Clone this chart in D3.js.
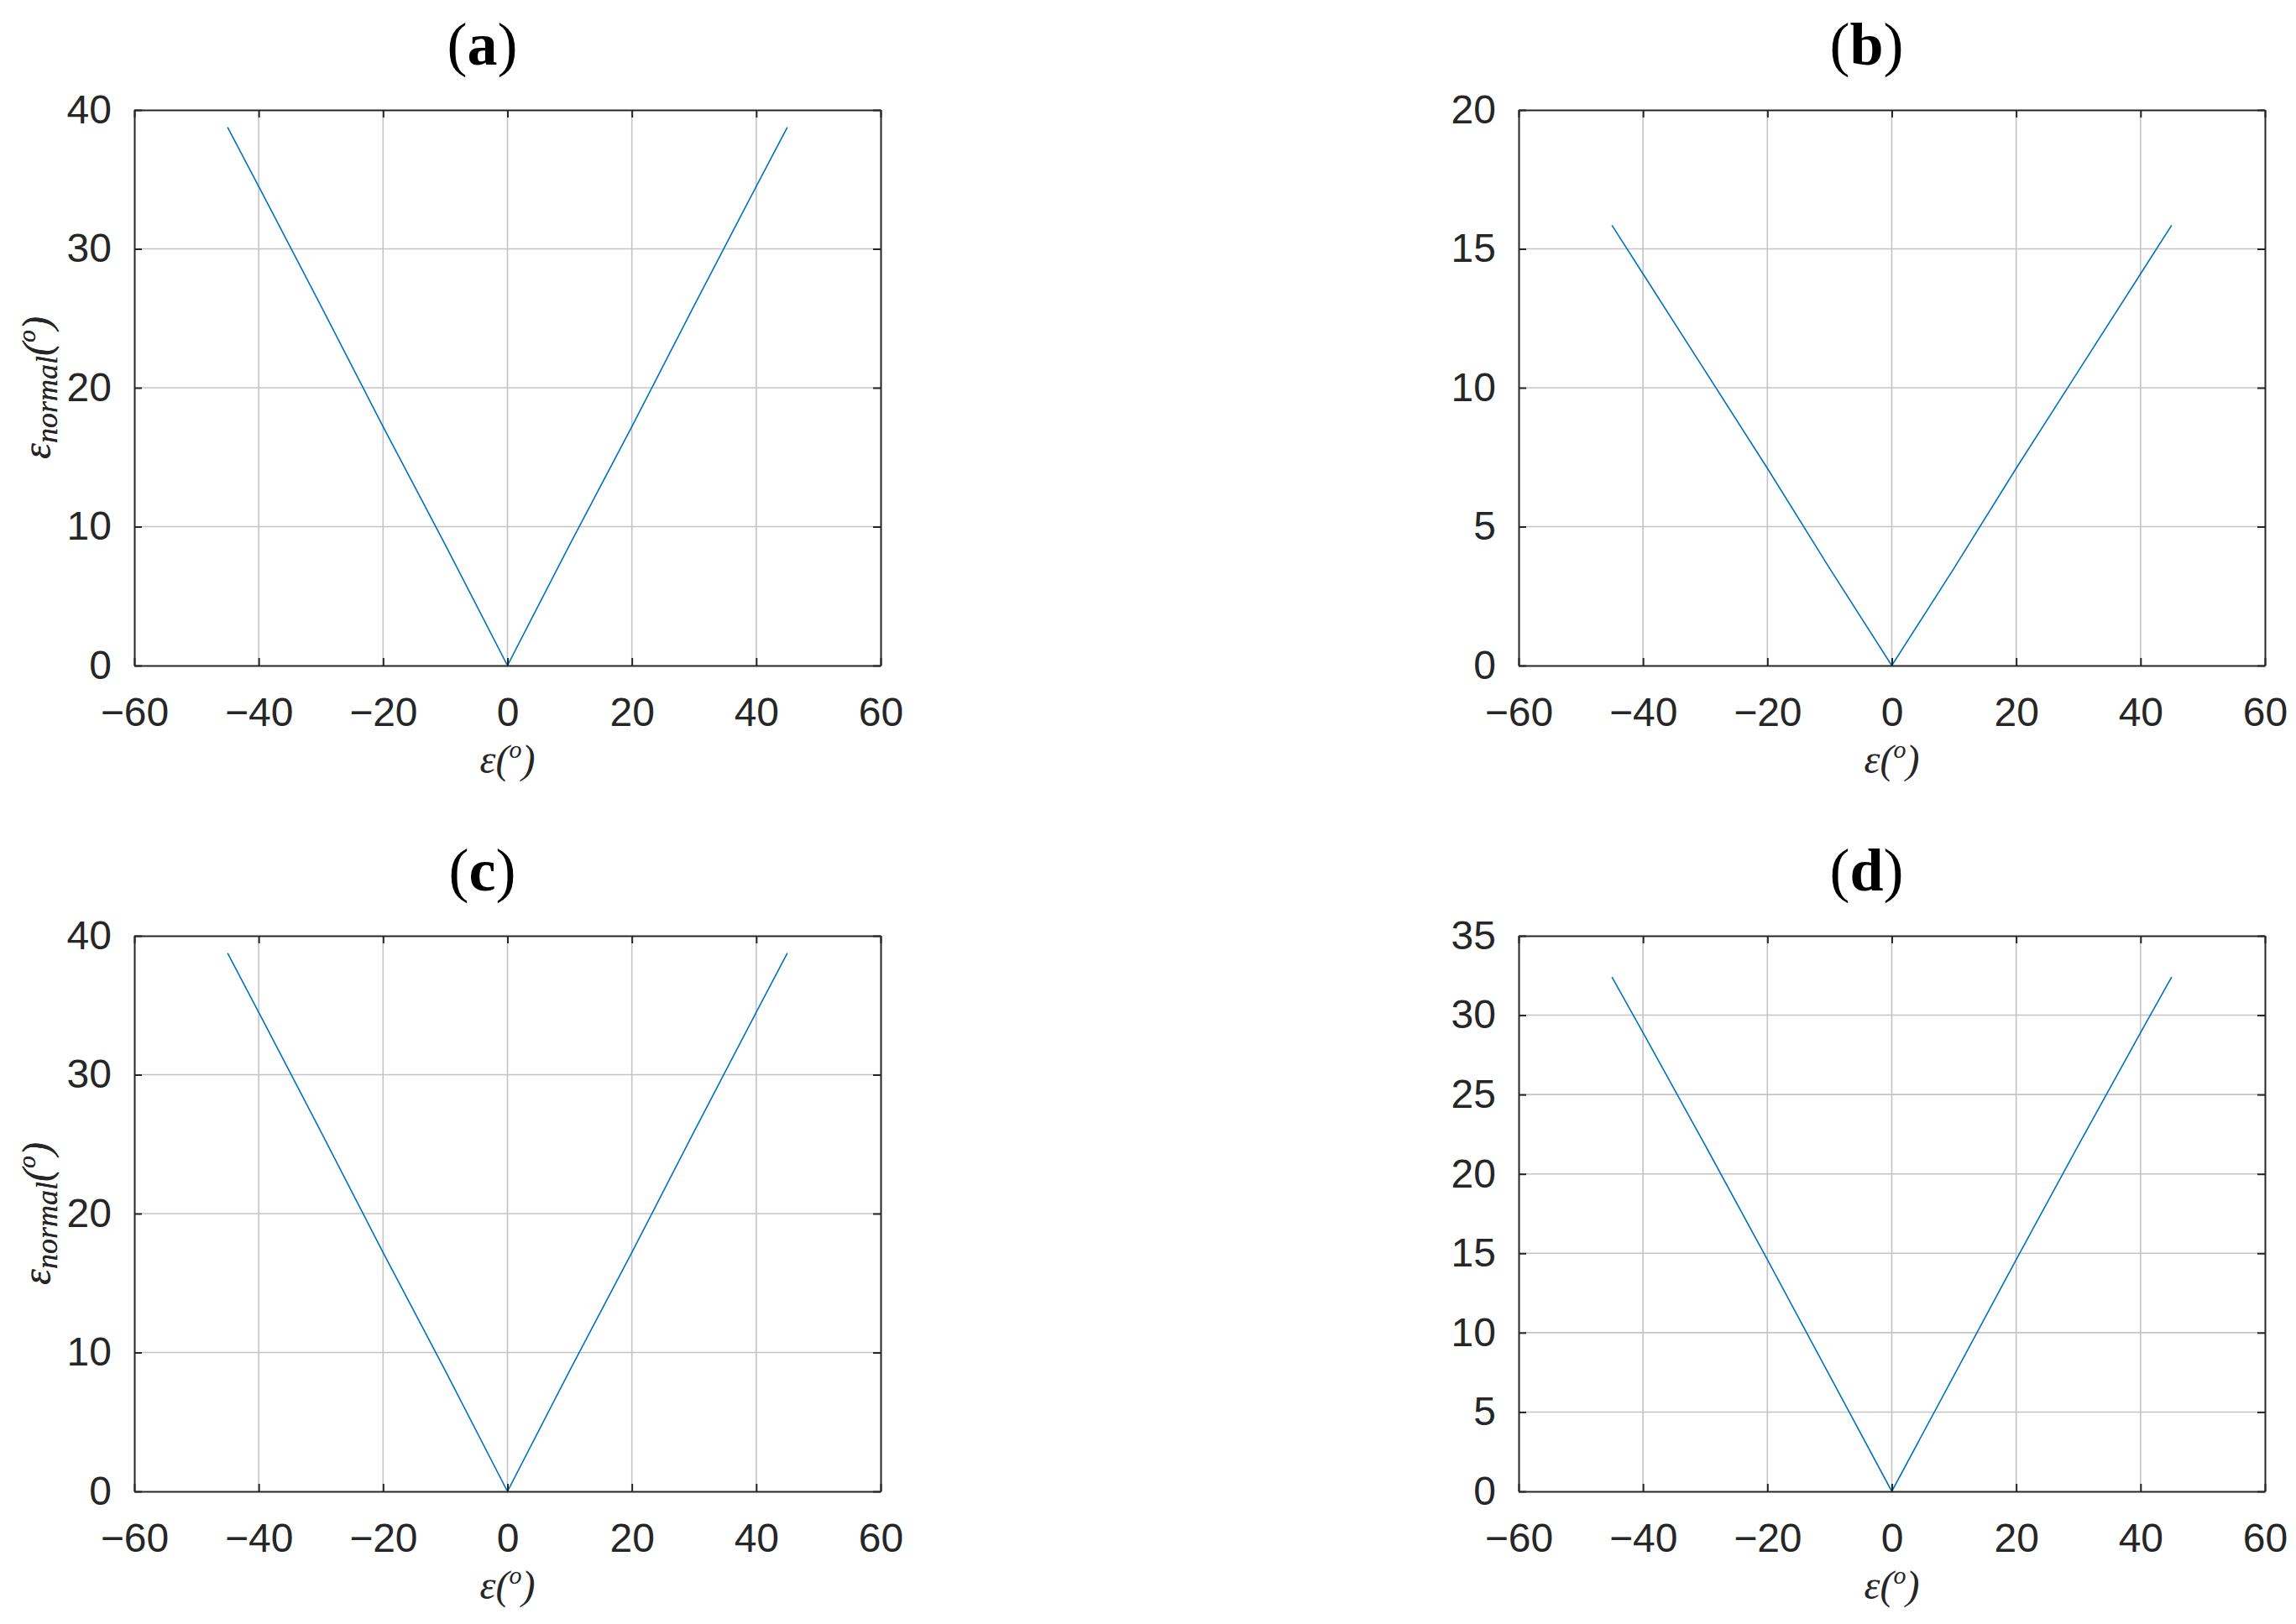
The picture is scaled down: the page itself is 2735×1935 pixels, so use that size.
<!DOCTYPE html>
<html>
<head>
<meta charset="utf-8">
<script src="https://cdn.jsdelivr.net/npm/d3@7"></script>
<style>
  body { margin: 0; background: #fff; }
  text { fill: #262626; }
</style>
</head>
<body>
<script>
// Størrelse på hele figuren
const w = 2735;
const h = 1935;

// Data - epsilon i grader og epsilon_normal for hvert panel
const epsValues = [-45, -40, -30, -20, -10, 0, 10, 20, 30, 40, 45];
const normalA = [38.75, 34.5, 25.9, 17.2, 8.7, 0, 8.7, 17.2, 25.9, 34.5, 38.75];
const normalB = [15.85, 14.1, 10.6, 7.1, 3.5, 0, 3.5, 7.1, 10.6, 14.1, 15.85];
const normalC = [38.75, 34.5, 25.9, 17.2, 8.7, 0, 8.7, 17.2, 25.9, 34.5, 38.75];
const normalD = [32.4, 28.9, 21.8, 14.6, 7.3, 0, 7.3, 14.6, 21.8, 28.9, 32.4];

// Tick-værdier
const xTicks = [-60, -40, -20, 0, 20, 40, 60];
const yTicksA = [0, 10, 20, 30, 40];
const yTicksB = [0, 5, 10, 15, 20];
const yTicksC = [0, 10, 20, 30, 40];
const yTicksD = [0, 5, 10, 15, 20, 25, 30, 35];

const panelLetters = ["a", "b", "c", "d"];
const panelSeries = [normalA, normalB, normalC, normalD];
const panelTicks = [yTicksA, yTicksB, yTicksC, yTicksD];

// Placering af plot-områderne
const colX = [160, 1809];
const rowY = [131, 1115];
const pw = 889;
const ph = 662;
const tickLen = 9;

const axisColor = "#262626";
const gridColor = "#c4c4c4";
const lineColor = "#0072BD";

const svg = d3.select("body").append("svg").attr("width", w).attr("height", h);

panelLetters.forEach(function (letter, i) {
  const x0 = colX[i % 2];
  const y0 = rowY[Math.floor(i / 2)];
  const yTicks = panelTicks[i];
  const series = panelSeries[i];

  const xScale = d3.scaleLinear().domain([-60, 60]).range([0, pw]);
  const yScale = d3.scaleLinear().domain([0, d3.max(yTicks)]).range([ph, 0]);

  const g = svg.append("g").attr("transform", "translate(" + x0 + "," + y0 + ")");

  // Gitterlinjer
  g.selectAll(".vgrid")
    .data(xTicks.slice(1, -1))
    .enter()
    .append("line")
    .attr("x1", d => xScale(d))
    .attr("x2", d => xScale(d))
    .attr("y1", 0)
    .attr("y2", ph)
    .attr("stroke", gridColor)
    .attr("stroke-width", 1.6);

  g.selectAll(".hgrid")
    .data(yTicks.slice(1, -1))
    .enter()
    .append("line")
    .attr("x1", 0)
    .attr("x2", pw)
    .attr("y1", d => yScale(d))
    .attr("y2", d => yScale(d))
    .attr("stroke", gridColor)
    .attr("stroke-width", 1.6);

  // Kurven
  const line = d3.line()
    .x((d, j) => xScale(epsValues[j]))
    .y(d => yScale(d));

  g.append("path")
    .datum(series)
    .attr("d", line)
    .attr("fill", "none")
    .attr("stroke", lineColor)
    .attr("stroke-width", 1.6);

  // Akser - ticks peger indad, som i MATLAB
  const xAxis = d3.axisBottom(xScale).tickValues(xTicks).tickSizeInner(-tickLen).tickSizeOuter(0).tickPadding(38);
  const yAxis = d3.axisLeft(yScale).tickValues(yTicks).tickSizeInner(-tickLen).tickSizeOuter(0).tickPadding(27);
  const xTop = d3.axisTop(xScale).tickValues(xTicks).tickSizeInner(-tickLen).tickSizeOuter(0).tickFormat("");
  const yRight = d3.axisRight(yScale).tickValues(yTicks).tickSizeInner(-tickLen).tickSizeOuter(0).tickFormat("");

  const axes = [
    g.append("g").attr("transform", "translate(0," + ph + ")").call(xAxis),
    g.append("g").call(yAxis),
    g.append("g").call(xTop),
    g.append("g").attr("transform", "translate(" + pw + ",0)").call(yRight)
  ];
  axes.forEach(function (a) {
    a.select(".domain").attr("stroke", axisColor).attr("stroke-width", 2);
    a.selectAll(".tick line").attr("stroke", axisColor).attr("stroke-width", 2);
    a.selectAll(".tick text")
      .attr("fill", axisColor)
      .style("font-family", "'Liberation Sans', Arial, sans-serif")
      .style("font-size", "48px");
  });

  // Titel (a), (b) ...
  const title = g.append("text")
    .attr("x", pw / 2 - 30)
    .attr("y", -54)
    .attr("text-anchor", "middle")
    .style("font-family", "'Liberation Serif', 'Times New Roman', serif")
    .style("font-size", "72px")
    .style("fill", "#000");
  title.append("tspan").text("(");
  title.append("tspan").style("font-weight", "bold").text(letter);
  title.append("tspan").text(")");

  // x-label: ε(°)
  const xl = g.append("text")
    .attr("x", pw / 2)
    .attr("y", ph + 128)
    .attr("text-anchor", "middle")
    .style("font-family", "'Liberation Serif', 'Times New Roman', serif")
    .style("font-style", "italic")
    .style("font-size", "48px");
  xl.append("tspan").text("ε(");
  xl.append("tspan").attr("dy", -18).style("font-size", "30px").text("o");
  xl.append("tspan").attr("dy", 18).text(")");

  // y-label: ε_normal(°)
  const yl = g.append("text")
    .attr("transform", "translate(" + (60 - x0) + "," + ph / 2 + ") rotate(-90)")
    .attr("text-anchor", "middle")
    .style("font-family", "'Liberation Serif', 'Times New Roman', serif")
    .style("font-style", "italic")
    .style("font-size", "48px");
  yl.append("tspan").text("ε");
  yl.append("tspan").attr("dy", 8).style("font-size", "36px").text("normal");
  yl.append("tspan").attr("dy", -8).text("(");
  yl.append("tspan").attr("dy", -18).style("font-size", "30px").text("o");
  yl.append("tspan").attr("dy", 18).text(")");
});
</script>
</body>
</html>
